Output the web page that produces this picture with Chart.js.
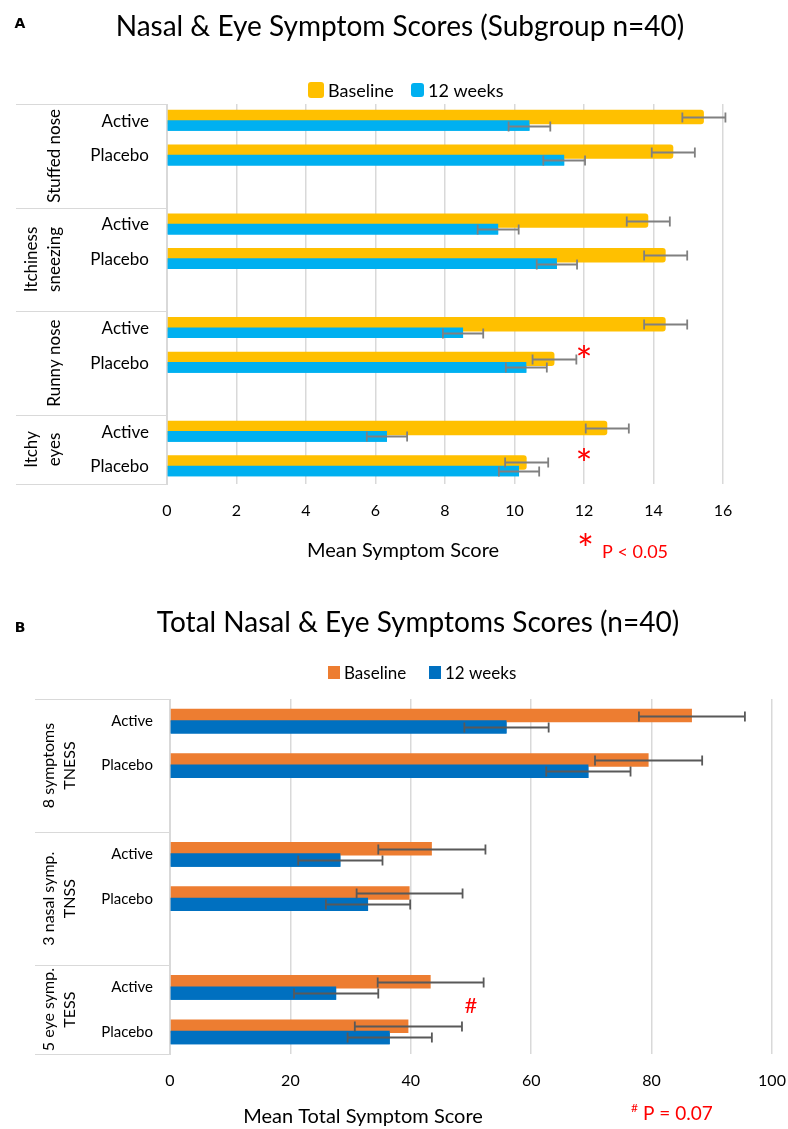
<!DOCTYPE html>
<html>
<head>
<meta charset="utf-8">
<script src="https://cdn.jsdelivr.net/npm/chart.js@4.4.1/dist/chart.umd.min.js"></script>
<style>
  html, body { margin: 0; padding: 0; background: #fff; }
  #wrap { position: relative; width: 788px; height: 1129px; }
  canvas { position: absolute; left: 0; }
  #chartA { top: 0; }
  #chartB { top: 580px; }
</style>
</head>
<body>
<div id="wrap">
  <canvas id="chartA" width="788" height="580" style="width:788px;height:580px"></canvas>
  <canvas id="chartB" width="788" height="549" style="width:788px;height:549px"></canvas>
</div>
<script>
// ---- Panel A: nasal & eye symptom scores, subgroup n=40 ----
const seriesNames = ['Baseline', '12 weeks'];

const categoriesA = ['Active', 'Placebo', '', 'Active', 'Placebo', '', 'Active', 'Placebo', '', 'Active', 'Placebo'];
const groupLabelsA = [['Stuffed nose'], ['Itchiness', 'sneezing'], ['Runny nose'], ['Itchy', 'eyes']];
const groupSizesA = [3, 3, 3, 2];
const baselineA = [15.45, 14.57, null, 13.85, 14.35, null, 14.35, 11.15, null, 12.67, 10.35];
const weeks12A = [10.43, 11.43, null, 9.53, 11.22, null, 8.52, 10.34, null, 6.33, 10.13];
const baselineErrA = [0.62, 0.62, null, 0.62, 0.62, null, 0.62, 0.63, null, 0.62, 0.62];
const weeks12ErrA = [0.60, 0.60, null, 0.59, 0.58, null, 0.58, 0.59, null, 0.58, 0.58];
const xTicksA = [0, 2, 4, 6, 8, 10, 12, 14, 16];
const sigRowsA = [7, 10];      // rows flagged with *
const sigValueA = 12;
const axisTitleA = 'Mean Symptom Score';
const titleA = 'Nasal & Eye Symptom Scores (Subgroup n=40)';

// ---- Panel B: total nasal & eye symptom scores, n=40 ----
const categoriesB = ['Active', 'Placebo', '', 'Active', 'Placebo', '', 'Active', 'Placebo'];
const groupLabelsB = [['8 symptoms', 'TNESS'], ['3 nasal symp.', 'TNSS'], ['5 eye symp.', 'TESS']];
const groupSizesB = [3, 3, 2];
const baselineB = [86.7, 79.5, null, 43.5, 39.8, null, 43.3, 39.6];
const weeks12B = [55.9, 69.5, null, 28.3, 32.9, null, 27.6, 36.5];
const baselineErrB = [8.8, 8.9, null, 8.9, 8.8, null, 8.8, 8.9];
const weeks12ErrB = [7.0, 7.0, null, 7.0, 7.0, null, 7.0, 7.0];
const xTicksB = [0, 20, 40, 60, 80, 100];
const sigGapB = 6;             // # between rows 6 and 7
const sigValueB = 50;
const axisTitleB = 'Mean Total Symptom Score';
const titleB = 'Total Nasal & Eye Symptoms Scores (n=40)';

const FONT = 'Lato, "Open Sans", sans-serif';
const RED = '#ff0000';

// Draw text so that its ink box is centred on (cx, cy)
function inkCentered(ctx, text, cx, cy) {
  ctx.textAlign = 'left';
  ctx.textBaseline = 'alphabetic';
  const m = ctx.measureText(text);
  const x = cx - (m.actualBoundingBoxRight - m.actualBoundingBoxLeft) / 2;
  const y = cy + (m.actualBoundingBoxAscent - m.actualBoundingBoxDescent) / 2;
  ctx.fillText(text, x, y);
}

function makePanel(canvasId, p) {
  const decor = {
    id: 'decor',
    afterDatasetsDraw(chart) {
      const ctx = chart.ctx;
      // 12-week bars sit on top of the baseline bars
      const topMeta = chart.getDatasetMeta(1);
      topMeta.data.forEach((el, i) => { if (p.series[1][i] != null) el.draw(ctx); });

      // error bars
      const xs = chart.scales.x;
      ctx.save();
      ctx.strokeStyle = p.errColor;
      ctx.lineWidth = p.errWidth;
      [0, 1].forEach(k => {
        chart.getDatasetMeta(k).data.forEach((el, i) => {
          const v = p.series[k][i], e = p.errors[k][i];
          if (v == null || e == null) return;
          const y = Math.round(el.y) + 0.5;
          const x1 = xs.getPixelForValue(v - e), x2 = xs.getPixelForValue(v + e);
          ctx.beginPath();
          ctx.moveTo(x1, y); ctx.lineTo(x2, y);
          ctx.moveTo(x1, y - p.cap); ctx.lineTo(x1, y + p.cap);
          ctx.moveTo(x2, y - p.cap); ctx.lineTo(x2, y + p.cap);
          ctx.stroke();
        });
      });
      ctx.restore();
    },
    afterDraw(chart) {
      const ctx = chart.ctx;
      const area = chart.chartArea;
      const xs = chart.scales.x, ys = chart.scales.y;
      ctx.save();
      ctx.fillStyle = '#000';

      // panel letter + title
      ctx.font = 'bold 14px "DejaVu Sans", sans-serif';
      ctx.textAlign = 'center'; ctx.textBaseline = 'alphabetic';
      ctx.fillText(p.letter, p.letterX, p.letterBase);
      ctx.font = '28px ' + FONT;
      ctx.fillText(p.title, p.titleX, p.titleBase);

      // legend
      ctx.font = p.legendFont + 'px ' + FONT;
      ctx.textAlign = 'left';
      p.legend.forEach((it, k) => {
        ctx.fillStyle = chart.data.datasets[k].backgroundColor;
        ctx.beginPath();
        if (ctx.roundRect) ctx.roundRect(it.bx, it.by, it.bw, it.bh, p.legendRadius);
        else ctx.rect(it.bx, it.by, it.bw, it.bh);
        ctx.fill();
        ctx.fillStyle = '#000';
        ctx.fillText(chart.data.datasets[k].label, it.tx, p.legendBase);
      });

      // category box: group dividers + rotated group names
      const half = (ys.getPixelForValue(1) - ys.getPixelForValue(0)) / 2;
      const bounds = [area.top];
      let start = 0;
      ctx.font = p.groupFont + 'px ' + FONT;
      p.groupSizes.forEach((n, g) => {
        const yTop = ys.getPixelForValue(start) - half;
        const yBot = ys.getPixelForValue(start + n - 1) + half;
        const lines = p.groupLabels[g];
        const cols = lines.length === 1 ? [p.groupX[1]] : p.groupX;
        lines.forEach((t, li) => {
          ctx.save();
          ctx.translate(cols[li], (yTop + yBot) / 2);
          ctx.rotate(-Math.PI / 2);
          ctx.textAlign = 'center';
          ctx.textBaseline = 'middle';
          ctx.fillText(t, 0, 0);
          ctx.restore();
        });
        bounds.push(yBot);
        start += n;
      });
      ctx.strokeStyle = '#d9d9d9';
      ctx.lineWidth = 1;
      bounds.forEach(y => {
        const yy = Math.round(y) + 0.5;
        ctx.beginPath();
        ctx.moveTo(p.boxLeft, yy);
        ctx.lineTo(area.left, yy);
        ctx.stroke();
      });

      // axis title
      ctx.fillStyle = '#000';
      ctx.font = '20px ' + FONT;
      ctx.textAlign = 'center';
      ctx.textBaseline = 'alphabetic';
      ctx.fillText(p.axisTitle, p.axisTitleX, p.axisTitleBase);

      // significance marks
      ctx.fillStyle = RED;
      ctx.font = p.sigFont + 'px ' + FONT;
      p.sigMarks.forEach(mk => {
        const y = mk.gap
          ? (ys.getPixelForValue(mk.row) + ys.getPixelForValue(mk.row + 1)) / 2
          : ys.getPixelForValue(mk.row);
        inkCentered(ctx, p.sigSymbol, xs.getPixelForValue(mk.value), y + p.sigShift);
      });

      // significance note
      ctx.font = p.noteSymFont + 'px ' + FONT;
      inkCentered(ctx, p.sigSymbol, p.noteSymX, p.noteSymY);
      ctx.font = p.noteFont + 'px ' + FONT;
      ctx.textAlign = 'left';
      ctx.textBaseline = 'alphabetic';
      ctx.fillText(p.noteText, p.noteX, p.noteBase);
      ctx.restore();
    }
  };

  return new Chart(document.getElementById(canvasId), {
    type: 'bar',
    data: {
      labels: p.categories,
      datasets: [
        {
          label: seriesNames[0], data: p.series[0], backgroundColor: p.colors[0],
          categoryPercentage: p.catPct, barPercentage: p.barPct[0], borderRadius: p.radius
        },
        {
          label: seriesNames[1], data: p.series[1], backgroundColor: p.colors[1],
          categoryPercentage: p.catPct, barPercentage: p.barPct[1], borderRadius: 0
        }
      ]
    },
    options: {
      indexAxis: 'y',
      responsive: false,
      animation: false,
      devicePixelRatio: 1,
      layout: { padding: p.padding },
      plugins: { legend: { display: false }, tooltip: { enabled: false }, title: { display: false } },
      scales: {
        x: {
          min: p.xTicks[0],
          max: p.xTicks[p.xTicks.length - 1],
          ticks: {
            stepSize: p.xTicks[1] - p.xTicks[0],
            color: '#000',
            font: { family: FONT, size: 16 },
            padding: p.xTickPad
          },
          grid: { color: '#d9d9d9', lineWidth: 1.5, drawTicks: false },
          border: { display: false },
          afterFit(scale) {
            scale.height = p.xAxisHeight;
            // plot edges are fixed by the layout padding alone
            scale.paddingLeft = 0;
            scale.paddingRight = 0;
          }
        },
        y: {
          ticks: {
            autoSkip: false,
            color: '#000',
            font: { family: FONT, size: p.catFont },
            padding: p.yTickPad
          },
          grid: { display: false, drawTicks: false },
          border: { display: true, color: '#d9d9d9', width: 1 },
          afterFit(scale) { scale.width = p.yAxisWidth; }
        }
      }
    },
    plugins: [decor]
  });
}

makePanel('chartA', {
  categories: categoriesA,
  series: [baselineA, weeks12A],
  errors: [baselineErrA, weeks12ErrA],
  groupLabels: groupLabelsA,
  groupSizes: groupSizesA,
  xTicks: xTicksA,
  colors: ['#FFC000', '#00B0F0'],
  catPct: 0.49, barPct: [1.7, 1.26], radius: 3,
  padding: { top: 104, right: 65, left: 16, bottom: 0 },
  yAxisWidth: 151, xAxisHeight: 96, xTickPad: 17, yTickPad: 18,
  catFont: 17, groupFont: 17, groupX: [32, 55], boxLeft: 16,
  errColor: '#808080', errWidth: 1.8, cap: 5,
  letter: 'A', letterX: 20, letterBase: 28, title: titleA, titleX: 400, titleBase: 36,
  legendFont: 18, legendBase: 97, legendRadius: 3,
  legend: [{ bx: 308, by: 82, bw: 16, bh: 16, tx: 328 }, { bx: 411, by: 83, bw: 13, bh: 14, tx: 428 }],
  axisTitle: axisTitleA, axisTitleX: 403, axisTitleBase: 557,
  sigSymbol: '*', sigFont: 40, sigShift: -12.5,
  sigMarks: sigRowsA.map(r => ({ row: r, value: sigValueA })),
  noteSymFont: 40, noteSymX: 585.5, noteSymY: 539,
  noteFont: 18, noteText: 'P < 0.05', noteX: 602, noteBase: 558
});

makePanel('chartB', {
  categories: categoriesB,
  series: [baselineB, weeks12B],
  errors: [baselineErrB, weeks12ErrB],
  groupLabels: groupLabelsB,
  groupSizes: groupSizesB,
  xTicks: xTicksB,
  colors: ['#ED7D31', '#0070C0'],
  catPct: 0.51, barPct: [1.19, 1.18], radius: 0,
  padding: { top: 119, right: 16, left: 35, bottom: 0 },
  yAxisWidth: 135, xAxisHeight: 75, xTickPad: 17, yTickPad: 17,
  catFont: 15, groupFont: 16, groupX: [49, 70], boxLeft: 35,
  errColor: '#595959', errWidth: 1.8, cap: 5,
  letter: 'B', letterX: 20, letterBase: 52, title: titleB, titleX: 418, titleBase: 52,
  legendFont: 17, legendBase: 99, legendRadius: 0,
  legend: [{ bx: 328, by: 86, bw: 12, bh: 13, tx: 344 }, { bx: 429, by: 86, bw: 12, bh: 13, tx: 445 }],
  axisTitle: axisTitleB, axisTitleX: 363, axisTitleBase: 543,
  sigSymbol: '#', sigFont: 22, sigShift: -4.5,
  sigMarks: [{ row: sigGapB, value: sigValueB, gap: true }],
  noteSymFont: 12, noteSymX: 634.5, noteSymY: 527.5,
  noteFont: 19, noteText: 'P = 0.07', noteX: 643, noteBase: 540
});
</script>
</body>
</html>
